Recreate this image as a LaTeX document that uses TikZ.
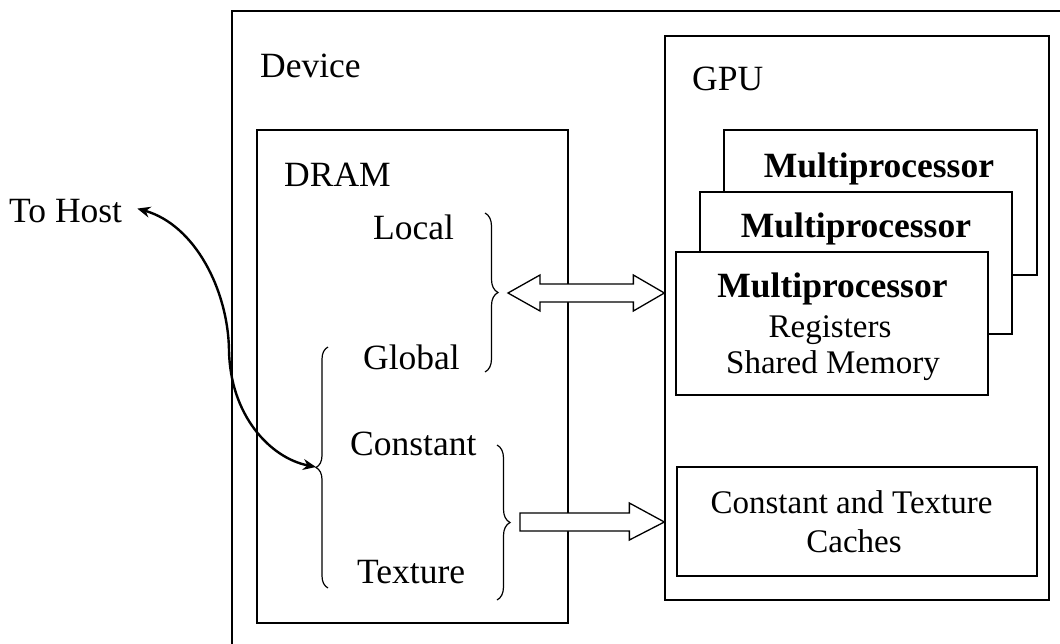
\documentclass[tikz,border=0pt]{standalone}
\usepackage{fontspec}
\setmainfont{Liberation Serif}
\usetikzlibrary{arrows.meta,calc,decorations.pathreplacing}

\tikzset{
  box/.style={draw, line width=1.3pt, fill=white, inner sep=0pt},
  lbl/.style={inner sep=0pt, font=\fontsize{35.5}{40}\selectfont},
  boxlbl/.style={inner sep=0pt, font=\fontsize{33}{38}\selectfont},
  mplbl/.style={inner sep=0pt, font=\fontsize{35.5}{40}\selectfont\bfseries},
  curly/.style={decorate, decoration={brace, amplitude=#1}, line width=1.2pt},
  fatarrow/.style={draw, line width=1.3pt, fill=white, line join=miter},
  hostarrow/.style={line width=2.4pt, {Stealth[length=13pt,width=11pt]}-{Stealth[length=13pt,width=11pt]}},
}

\begin{document}
\begin{tikzpicture}[x=1pt,y=-1pt]
        \useasboundingbox (0,0) rectangle (1060,643);
        \clip (0,0) rectangle (1060,643);
        % boxes
        \node[box, minimum width=868pt, minimum height=689pt] (device) at (666,355.5) {};
        \node[box, minimum width=311pt, minimum height=493pt] (dram) at (412.5,376.5) {};
        \node[box, minimum width=384pt, minimum height=564pt] (gpu) at (857,318) {};
        \node[box, minimum width=313pt, minimum height=145pt] (mp3) at (880.5,202.5) {};
        \node[box, minimum width=312pt, minimum height=142pt] (mp2) at (856,263) {};
        \node[box, minimum width=312pt, minimum height=143pt] (mp1) at (832,323.5) {};
        \node[box, minimum width=360pt, minimum height=109pt] (cache) at (857,521.5) {};
        % labels
        \node[lbl, anchor=base west] (devlbl) at (260,77) {Device};
        \node[lbl, anchor=base west] (gpulbl) at (692,90) {GPU};
        \node[lbl, anchor=base west] (dramlbl) at (284,186) {DRAM};
        \node[lbl, anchor=base west] (host) at (9,222) {To Host};
        \node[lbl, anchor=base west] (local) at (373,239) {Local};
        \node[lbl, anchor=base west] (global) at (363,369) {Global};
        \node[lbl, anchor=base west] (const) at (350,455) {Constant};
        \node[lbl, anchor=base west] (tex) at (357,583) {Texture};
        \node[mplbl, anchor=base] (mp3lbl) at (879,177) {Multiprocessor};
        \node[mplbl, anchor=base] (mp2lbl) at (856,237) {Multiprocessor};
        \node[mplbl, anchor=base] (mp1lbl) at (832.5,297) {Multiprocessor};
        \node[boxlbl, anchor=base] (regs) at (830,337) {Registers};
        \node[boxlbl, anchor=base] (shmem) at (833,373) {Shared Memory};
        \node[boxlbl, anchor=base] (cache1) at (851.5,513) {Constant and Texture};
        \node[boxlbl, anchor=base] (cache2) at (854,552) {Caches};
        % braces
        \draw[curly=13pt] (485,213) -- (485,372);
        \draw[curly=12pt] (328,588) -- (328,347);
        \draw[curly=13pt] (497,445) -- (497,600);
        \coordinate (lgtip) at (498,293);
        \coordinate (lefttip) at (316,467);
        \coordinate (cttip) at (510,522);
        % wide arrows
        \coordinate (dl) at ([xshift=10pt]lgtip);
        \coordinate (dr) at (gpu.west |- lgtip);
        \draw[fatarrow] (dl) -- ++(32,-18) -- ++(0,9) -- ($(dr)+(-31,-9)$) -- ++(0,-9)
          -- (dr) -- ++(-31,18) -- ++(0,-9) -- ($(dl)+(32,9)$) -- ++(0,9) -- cycle;
        \coordinate (sl) at ([xshift=10pt]cttip);
        \coordinate (sr) at (gpu.west |- cttip);
        \draw[fatarrow] ($(sl)+(0,-9)$) -- ($(sr)+(-35,-9)$) -- ++(0,-10) -- (sr)
          -- ++(-35,18) -- ++(0,-9) -- ($(sl)+(0,9)$) -- cycle;
        % host connection
        \draw[hostarrow] ($(host.east)+(15,-2)$) .. controls (195,225) and (228,290) .. (229,350)
          .. controls (230,415) and (270,458) .. (lefttip);
      \end{tikzpicture}
\end{document}
